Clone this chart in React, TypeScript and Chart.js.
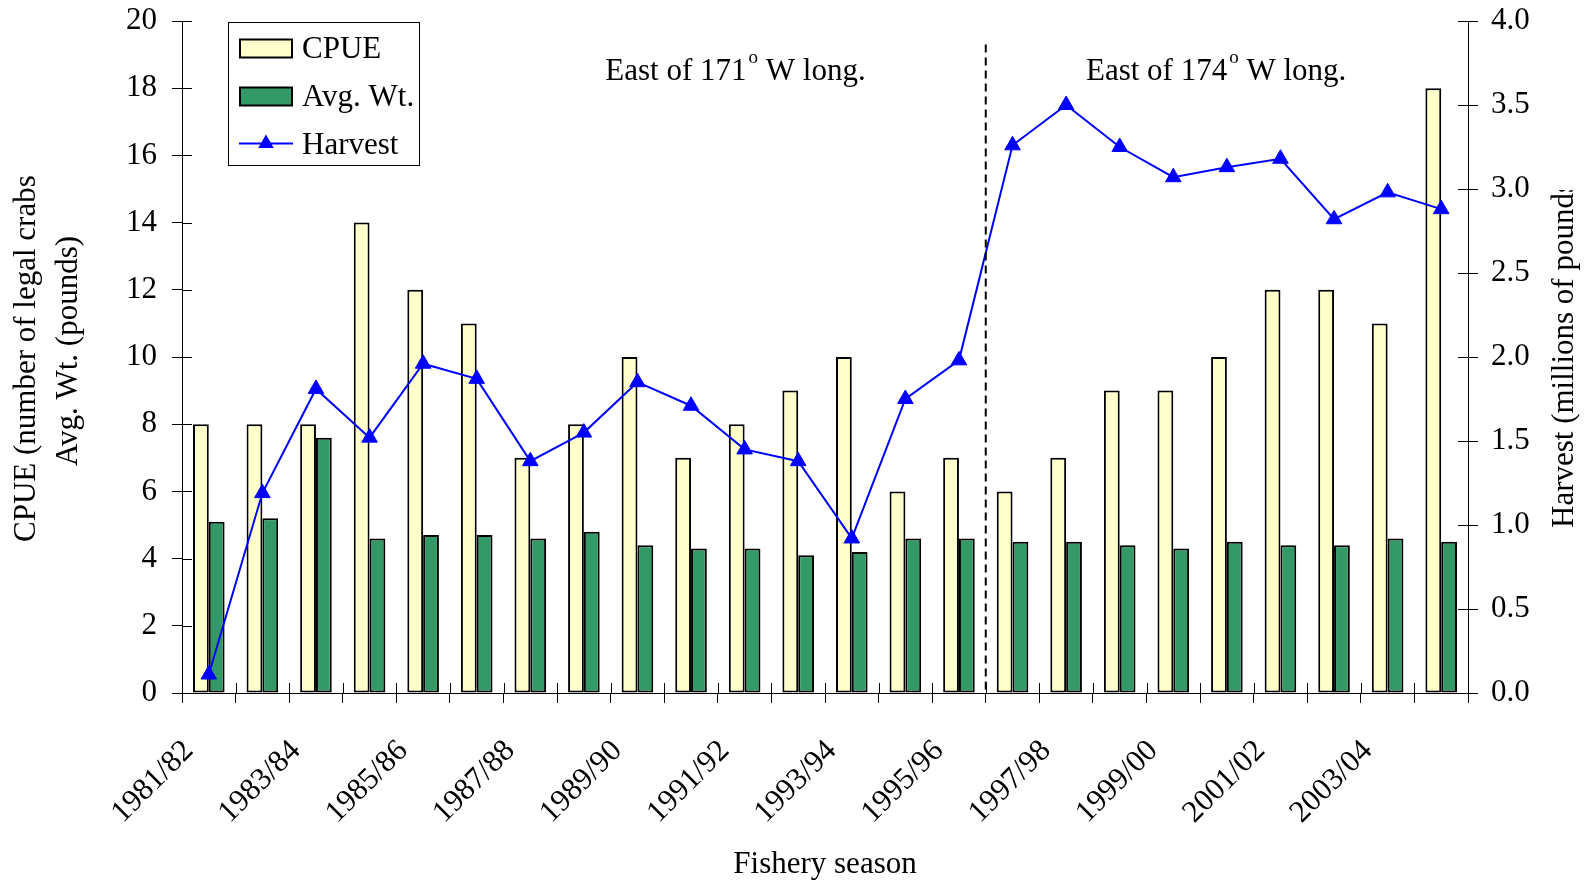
import React, { useEffect, useRef } from 'react';
import { Chart, registerables } from 'chart.js';

Chart.register(...registerables);

const seasons = [
  '1981/82', '1982/83', '1983/84', '1984/85', '1985/86', '1986/87', '1987/88', '1988/89',
  '1989/90', '1990/91', '1991/92', '1992/93', '1993/94', '1994/95', '1995/96', '1996/97',
  '1997/98', '1998/99', '1999/00', '2000/01', '2001/02', '2002/03', '2003/04', '2004/05',
];
const cpue = [8, 8, 8, 14, 12, 11, 7, 8, 10, 7, 8, 9, 10, 6, 7, 6, 7, 9, 9, 10, 12, 12, 11, 18];
const avgWt = [5.1, 5.2, 7.6, 4.6, 4.7, 4.7, 4.6, 4.8, 4.4, 4.3, 4.3, 4.1, 4.2, 4.6, 4.6, 4.5, 4.5, 4.4, 4.3, 4.5, 4.4, 4.4, 4.6, 4.5];
const harvest = [0.11, 1.19, 1.81, 1.52, 1.96, 1.87, 1.38, 1.55, 1.85, 1.71, 1.45, 1.38, 0.92, 1.75, 1.98, 3.26, 3.5, 3.25, 3.07, 3.13, 3.18, 2.82, 2.98, 2.88];

const seriesLabels = ['CPUE', 'Avg. Wt.', 'Harvest'];
const leftTitleLines = ['CPUE (number of legal crabs', 'Avg. Wt. (pounds)'];
const rightTitle = 'Harvest (millions of pounds)';
const xTitle = 'Fishery season';
// region annotations: text before degree sign, text after, category position (left edge), left-axis value (baseline)
const regionTexts = ['East of 171', 'East of 174'];
const regionTail = ' W long.';
const regionX = [7.4, 16.37];
const regionY = 18.25;
const dividerIndex = 15; // boundary before 1996/97
const dividerTop = 19.3;

const FONT = '"Liberation Serif", "Times New Roman", serif';
const FS = 31;

const decorPlugin = {
  id: 'decor',
  afterDraw(chart: any) {
    const ctx = chart.ctx as CanvasRenderingContext2D;
    const xs = chart.scales.x;
    const ys = chart.scales.y;
    const y1 = chart.scales.y1;
    const ca = chart.chartArea;
    ctx.save();
    ctx.strokeStyle = '#000';
    ctx.lineWidth = 1;
    // inner halves of crossing ticks
    ctx.beginPath();
    ys.ticks.forEach((t: any) => {
      const p = Math.round(ys.getPixelForValue(t.value)) + 0.5;
      ctx.moveTo(ca.left, p);
      ctx.lineTo(ca.left + 10, p);
    });
    y1.ticks.forEach((t: any) => {
      const p = Math.round(y1.getPixelForValue(t.value)) + 0.5;
      ctx.moveTo(ca.right - 10, p);
      ctx.lineTo(ca.right, p);
    });
    for (let i = 0; i <= seasons.length; i++) {
      const p = Math.round(xs.getPixelForValue(i - 0.5)) + 0.5;
      ctx.moveTo(p, ca.bottom - 10);
      ctx.lineTo(p, ca.bottom);
    }
    ctx.stroke();

    // dashed divider
    const dx = xs.getPixelForValue(dividerIndex - 0.5);
    ctx.beginPath();
    ctx.setLineDash([8, 5]);
    ctx.lineWidth = 2;
    ctx.moveTo(dx, ys.getPixelForValue(dividerTop));
    ctx.lineTo(dx, ca.bottom);
    ctx.stroke();
    ctx.setLineDash([]);

    // region annotations
    ctx.fillStyle = '#000';
    ctx.textBaseline = 'alphabetic';
    ctx.textAlign = 'left';
    regionTexts.forEach((txt, i) => {
      let x = xs.getPixelForValue(regionX[i]);
      const y = ys.getPixelForValue(regionY);
      ctx.font = `${FS}px ${FONT}`;
      ctx.fillText(txt, x, y);
      x += ctx.measureText(txt).width + 2;
      ctx.font = `19px ${FONT}`;
      ctx.fillText('o', x, y - 17);
      x += ctx.measureText('o').width;
      ctx.font = `${FS}px ${FONT}`;
      ctx.fillText(regionTail, x, y);
    });

    // legend
    const lx = ca.left + 46;
    const ly = ca.top + 0.5;
    ctx.fillStyle = '#fff';
    ctx.fillRect(lx, ly, 192, 143);
    ctx.lineWidth = 1;
    ctx.strokeStyle = '#000';
    ctx.strokeRect(Math.round(lx) + 0.5, Math.round(ly) + 0.5, 191, 143);
    const ds = chart.data.datasets;
    const rowBase = [57, 105, 153];
    ds.forEach((d: any, i: number) => {
      const base = ly + rowBase[i] - 21;
      if (d.type === 'line') {
        const cy = base - 10;
        ctx.strokeStyle = d.borderColor;
        ctx.lineWidth = 2;
        ctx.beginPath();
        ctx.moveTo(lx + 11, cy);
        ctx.lineTo(lx + 65, cy);
        ctx.stroke();
        ctx.fillStyle = d.pointBackgroundColor;
        const r = 9;
        const tx = lx + 38;
        ctx.beginPath();
        ctx.moveTo(tx, cy - r);
        ctx.lineTo(tx + r * 0.866, cy + r * 0.5);
        ctx.lineTo(tx - r * 0.866, cy + r * 0.5);
        ctx.closePath();
        ctx.fill();
      } else {
        ctx.fillStyle = d.backgroundColor;
        ctx.fillRect(lx + 12, base - 18, 52, 18);
        ctx.strokeStyle = '#000';
        ctx.lineWidth = 2;
        ctx.strokeRect(lx + 12, base - 18, 52, 18);
      }
      ctx.fillStyle = '#000';
      ctx.font = `${FS}px ${FONT}`;
      ctx.textAlign = 'left';
      ctx.fillText(d.label, lx + 74, base);
    });

    // axis titles
    ctx.fillStyle = '#000';
    ctx.font = `${FS}px ${FONT}`;
    // left line 1 (clipped at top)
    ctx.save();
    ctx.beginPath();
    ctx.rect(0, 176, 120, 700);
    ctx.clip();
    ctx.translate(35, 542);
    ctx.rotate(-Math.PI / 2);
    ctx.textAlign = 'left';
    ctx.fillText(leftTitleLines[0], 0, 0);
    ctx.restore();
    // left line 2
    ctx.save();
    ctx.translate(77, (ca.top + ca.bottom) / 2 - 6);
    ctx.rotate(-Math.PI / 2);
    ctx.textAlign = 'center';
    ctx.fillText(leftTitleLines[1], 0, 0);
    ctx.restore();
    // right title (clipped at top)
    ctx.save();
    ctx.beginPath();
    ctx.rect(1500, 190, 200, 700);
    ctx.clip();
    ctx.translate(1573, 528);
    ctx.rotate(-Math.PI / 2);
    ctx.textAlign = 'left';
    ctx.fillText(rightTitle, 0, 0);
    ctx.restore();
    // x title
    ctx.textAlign = 'center';
    ctx.fillText(xTitle, (ca.left + ca.right) / 2, 873);
    ctx.restore();
  },
};

const noPad = (s: any) => {
  s.paddingTop = 0;
  s.paddingBottom = 0;
  s.paddingLeft = 0;
  s.paddingRight = 0;
};

export default function App() {
  const ref = useRef<HTMLCanvasElement>(null);
  useEffect(() => {
    if (!ref.current) return;
    Chart.defaults.color = '#000';
    const tickFont = { family: FONT, size: FS };
    const chart = new Chart(ref.current, {
      type: 'bar',
      data: {
        labels: seasons,
        datasets: [
          {
            type: 'bar',
            label: seriesLabels[0],
            data: cpue,
            yAxisID: 'y',
            backgroundColor: '#FFFFCC',
            borderColor: '#000',
            borderWidth: 2,
            borderSkipped: false,
            categoryPercentage: 0.59,
            barPercentage: 1,
            order: 1,
          },
          {
            type: 'bar',
            label: seriesLabels[1],
            data: avgWt,
            yAxisID: 'y',
            backgroundColor: '#339966',
            borderColor: '#000',
            borderWidth: 2,
            borderSkipped: false,
            categoryPercentage: 0.59,
            barPercentage: 1,
            order: 1,
          },
          {
            type: 'line',
            label: seriesLabels[2],
            data: harvest,
            yAxisID: 'y1',
            borderColor: '#0000FF',
            backgroundColor: '#0000FF',
            pointBackgroundColor: '#0000FF',
            pointBorderColor: '#0000FF',
            pointBorderWidth: 1,
            pointStyle: 'triangle',
            pointRadius: 9,
            borderWidth: 2,
            tension: 0,
            order: 0,
          } as any,
        ],
      },
      options: {
        animation: false,
        responsive: false,
        maintainAspectRatio: false,
        layout: { padding: { top: 21, left: 0, right: 0, bottom: 0 } },
        plugins: {
          legend: { display: false },
          tooltip: { enabled: false },
          title: { display: false },
        },
        scales: {
          x: {
            offset: true,
            grid: { offset: true, drawOnChartArea: false, drawTicks: true, tickLength: 10, color: '#000', lineWidth: 1 },
            border: { display: true, color: '#000', width: 1 },
            ticks: {
              autoSkip: false,
              minRotation: 45,
              maxRotation: 45,
              padding: 30,
              labelOffset: -20,
              color: '#000',
              font: tickFont,
              callback: (_v: any, i: number) => (i % 2 === 0 ? seasons[i] : ''),
            },
            afterFit: (s: any) => { s.height = 191; noPad(s); },
          },
          y: {
            position: 'left',
            min: 0,
            max: 20,
            grid: { drawOnChartArea: false, tickLength: 10, color: '#000', lineWidth: 1 },
            border: { display: true, color: '#000', width: 1 },
            ticks: { stepSize: 2, padding: 15, color: '#000', font: tickFont },
            afterFit: (s: any) => { s.width = 182; noPad(s); },
          },
          y1: {
            position: 'right',
            min: 0,
            max: 4,
            grid: { drawOnChartArea: false, tickLength: 10, color: '#000', lineWidth: 1 },
            border: { display: true, color: '#000', width: 1 },
            ticks: {
              stepSize: 0.5,
              padding: 13,
              color: '#000',
              font: tickFont,
              callback: (v: any) => Number(v).toFixed(1),
            },
            afterFit: (s: any) => { s.width = 121; noPad(s); },
          },
        },
      },
      plugins: [decorPlugin],
    });
    return () => chart.destroy();
  }, []);
  return (
    <div style={{ position: 'fixed', left: 0, top: 0, width: 1589, height: 884, background: '#fff' }}>
      <canvas ref={ref} width={1589} height={884} style={{ display: 'block', width: 1589, height: 884 }} />
    </div>
  );
}
